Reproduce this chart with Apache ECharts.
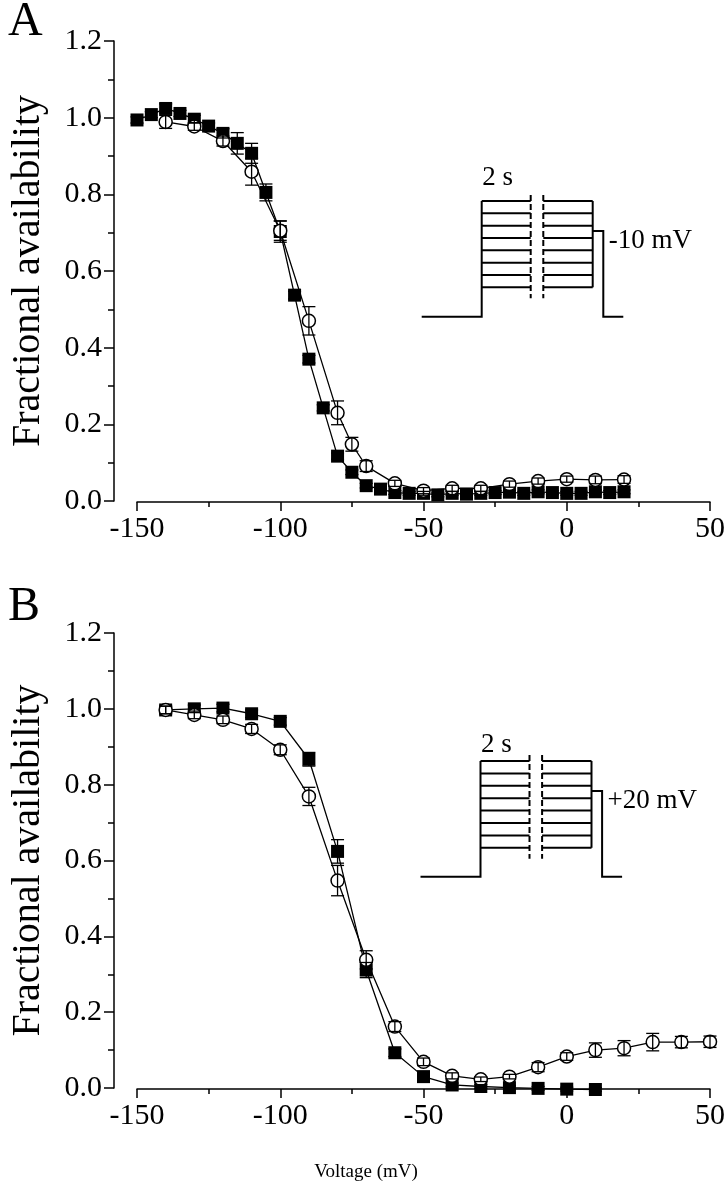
<!DOCTYPE html>
<html>
<head>
<meta charset="utf-8">
<script src="https://cdn.jsdelivr.net/npm/echarts@6/dist/echarts.min.js"></script>
<style>
html,body{margin:0;padding:0;background:#fff;}
#chart{width:728px;height:1200px;}
</style>
</head>
<body>
<div id="chart"></div>
<script>
// ---------- DATA ----------
// Panel A, filled squares
var aSqX = [-150,-145,-140,-135,-130,-125,-120,-115,-110,-105,-100,-95,-90,-85,-80,-75,-70,-65,-60,-55,-50,-45,-40,-35,-30,-25,-20,-15,-10,-5,0,5,10,15,20];
var aSqY = [0.994,1.008,1.024,1.011,0.996,0.978,0.959,0.933,0.907,0.805,0.703,0.537,0.370,0.243,0.117,0.075,0.040,0.031,0.022,0.020,0.020,0.016,0.020,0.018,0.020,0.022,0.023,0.020,0.024,0.022,0.020,0.020,0.024,0.022,0.024];
var aSqE = [0.008,0.008,0.012,0.008,0.010,0.008,0.012,0.028,0.026,0.022,0.028,0.010,0.010,0.008,0.008,0.006,0.006,0.006,0.005,0.005,0.005,0.005,0.005,0.005,0.005,0.005,0.005,0.005,0.005,0.005,0.005,0.005,0.005,0.005,0.005];
// Panel A, open circles
var aCiX = [-140,-130,-120,-110,-100,-90,-80,-75,-70,-60,-50,-40,-30,-20,-10,0,10,20];
var aCiY = [0.989,0.977,0.939,0.859,0.705,0.470,0.230,0.148,0.091,0.046,0.027,0.033,0.033,0.044,0.052,0.057,0.055,0.056];
var aCiE = [0.017,0.010,0.013,0.035,0.025,0.037,0.031,0.018,0.014,0.008,0.008,0.008,0.008,0.008,0.008,0.008,0.010,0.010];
// Panel B, filled squares
var bSqX = [-140,-130,-120,-110,-100,-90,-80,-70,-60,-50,-40,-30,-20,-10,0,10];
var bSqY = [0.997,1.000,1.002,0.987,0.967,0.867,0.624,0.311,0.093,0.030,0.008,0.004,0.001,-0.001,-0.003,-0.004];
var bSqE = [0.010,0.010,0.010,0.010,0.010,0.018,0.031,0.020,0.010,0.005,0.005,0.005,0.005,0.005,0.005,0.005];
// Panel B, open circles
var bCiX = [-140,-130,-120,-110,-100,-90,-80,-70,-60,-50,-40,-30,-20,-10,0,10,20,30,40,50];
var bCiY = [0.997,0.984,0.971,0.947,0.892,0.769,0.547,0.338,0.162,0.069,0.032,0.023,0.030,0.055,0.083,0.100,0.105,0.121,0.121,0.122];
var bCiE = [0.010,0.010,0.010,0.012,0.013,0.024,0.040,0.024,0.013,0.010,0.008,0.006,0.006,0.012,0.010,0.019,0.020,0.023,0.015,0.015];

var xTicks = {min:-150, max:50, interval:50};
var yTicks = {min:0, max:1.2, interval:0.2};
var yName = 'Fractional availability';
var xName = 'Voltage (mV)';
var insetA = {top:'2 s', label:'-10 mV'};
var insetB = {top:'2 s', label:'+20 mV'};

// ---------- HELPERS ----------
var FONT = '"Liberation Serif","Times New Roman",serif';
function zip(xs, ys){ return xs.map(function(x,i){ return [x, ys[i]]; }); }
function zip3(xs, ys, es){ return xs.map(function(x,i){ return [x, ys[i], es[i]]; }); }

function xAxisDef(gi){
  return {
    gridIndex: gi, type:'value', min:xTicks.min, max:xTicks.max, interval:xTicks.interval,
    offset: 1,
    axisLine:{show:true, onZero:false, lineStyle:{color:'#000', width:1.5}},
    axisTick:{show:true, inside:false, length:9, lineStyle:{color:'#000', width:1.5}},
    minorTick:{show:true, splitNumber:2, length:5, lineStyle:{color:'#000', width:1.5}},
    splitLine:{show:false},
    axisLabel:{color:'#000', fontFamily:FONT, fontSize:30, margin:12}
  };
}
function yAxisDef(gi){
  return {
    gridIndex: gi, type:'value', min:yTicks.min, max:yTicks.max, interval:yTicks.interval,
    offset: 23,
    name: yName, nameLocation:'middle', nameGap:66,
    nameTextStyle:{color:'#000', fontFamily:FONT, fontSize:40},
    axisLine:{show:true, onZero:false, lineStyle:{color:'#000', width:1.5}},
    axisTick:{show:true, inside:false, length:10, lineStyle:{color:'#000', width:1.5}},
    minorTick:{show:true, splitNumber:2, length:6, lineStyle:{color:'#000', width:1.5}},
    splitLine:{show:false},
    axisLabel:{color:'#000', fontFamily:FONT, fontSize:30, margin:12,
      formatter:function(v){ return v.toFixed(1); }}
  };
}
function lineSeries(gi, data, filled){
  return {
    type:'line', xAxisIndex:gi, yAxisIndex:gi, data:data, clip:false,
    symbol: filled ? 'rect' : 'circle',
    symbolSize: 13,
    showSymbol:true, animation:false, z: filled ? 3 : 4,
    lineStyle:{color:'#000', width:1.3},
    itemStyle: filled ? {color:'#000'} : {color:'#fff', borderColor:'#000', borderWidth:1.5}
  };
}
function errSeries(gi, data){
  return {
    type:'custom', xAxisIndex:gi, yAxisIndex:gi, data:data, animation:false, z:5, clip:false,
    encode:{x:0, y:1},
    renderItem:function(params, api){
      var x = api.value(0), y = api.value(1), e = api.value(2);
      var hi = api.coord([x, y+e]), lo = api.coord([x, y-e]);
      var w = 6.5;
      var st = {stroke:'#000', lineWidth:1.3};
      return {type:'group', children:[
        {type:'line', shape:{x1:hi[0], y1:hi[1], x2:lo[0], y2:lo[1]}, style:st},
        {type:'line', shape:{x1:hi[0]-w, y1:hi[1], x2:hi[0]+w, y2:hi[1]}, style:st},
        {type:'line', shape:{x1:lo[0]-w, y1:lo[1], x2:lo[0]+w, y2:lo[1]}, style:st}
      ]};
    }
  };
}
// Protocol inset (schematic drawing)
function inset(ox, oy, dy, txt, textGap){
  var els = [];
  var st = {stroke:'#000', lineWidth:2, fill:null};
  var top = oy, n = 8, bottom = oy + dy*(n-1);
  var xL = ox, xM1 = ox+49, xM2 = ox+61.6, xR = ox+111, base = oy+115.7;
  els.push({type:'polyline', shape:{points:[[ox-60, base],[xL, base],[xL, top]]}, style:st});
  for (var i=0;i<n;i++){
    var yy = top + dy*i;
    els.push({type:'line', shape:{x1:xL, y1:yy, x2:xM1, y2:yy}, style:st});
    els.push({type:'line', shape:{x1:xM2, y1:yy, x2:xR, y2:yy}, style:st});
  }
  els.push({type:'line', shape:{x1:xR, y1:top, x2:xR, y2:bottom}, style:st});
  var stepY = oy + 30;
  els.push({type:'polyline', shape:{points:[[xR, stepY],[xR+10.6, stepY],[xR+10.6, base],[xR+30.6, base]]}, style:st});
  var ds = {stroke:'#000', lineWidth:2, lineDash:[6,3]};
  els.push({type:'line', shape:{x1:xM1, y1:top-6, x2:xM1, y2:bottom+11}, style:ds});
  els.push({type:'line', shape:{x1:xM2, y1:top-6, x2:xM2, y2:bottom+11}, style:ds});
  els.push({type:'text', x:ox+16, y:top-textGap, style:{text:txt.top, fill:'#000', font:'27px '+FONT, textAlign:'center', textVerticalAlign:'middle'}});
  els.push({type:'text', x:xR+16, y:stepY+10, style:{text:txt.label, fill:'#000', font:'27px '+FONT, textAlign:'left', textVerticalAlign:'middle'}});
  return els;
}

var chart = echarts.init(document.getElementById('chart'), null, {renderer:'canvas'});
var option = {
  backgroundColor:'#fff',
  animation:false,
  grid:[
    {left:136, width:576, top:41, height:460},
    {left:134, width:578, top:633, height:455}
  ],
  xAxis:[xAxisDef(0), xAxisDef(1)],
  yAxis:[yAxisDef(0), yAxisDef(1)],
  series:[
    lineSeries(0, zip(aCiX, aCiY), false),
    lineSeries(0, zip(aSqX, aSqY), true),
    errSeries(0, zip3(aSqX, aSqY, aSqE)),
    errSeries(0, zip3(aCiX, aCiY, aCiE)),
    lineSeries(1, zip(bCiX, bCiY), false),
    lineSeries(1, zip(bSqX, bSqY), true),
    errSeries(1, zip3(bSqX, bSqY, bSqE)),
    errSeries(1, zip3(bCiX, bCiY, bCiE))
  ],
  graphic: [].concat(
    inset(481.7, 201, 12.33, insetA, 23),
    inset(480.5, 761, 12.4, insetB, 16),
    [
      {type:'text', left:8, top:-2, style:{text:'A', fill:'#000', font:'48px '+FONT}},
      {type:'text', left:8, top:583, style:{text:'B', fill:'#000', font:'48px '+FONT}},
      {type:'text', x:366, y:1172, style:{text:xName, fill:'#000', font:'19px '+FONT, textAlign:'center', textVerticalAlign:'middle'}}
    ]
  )
};
chart.setOption(option);
</script>
</body>
</html>
